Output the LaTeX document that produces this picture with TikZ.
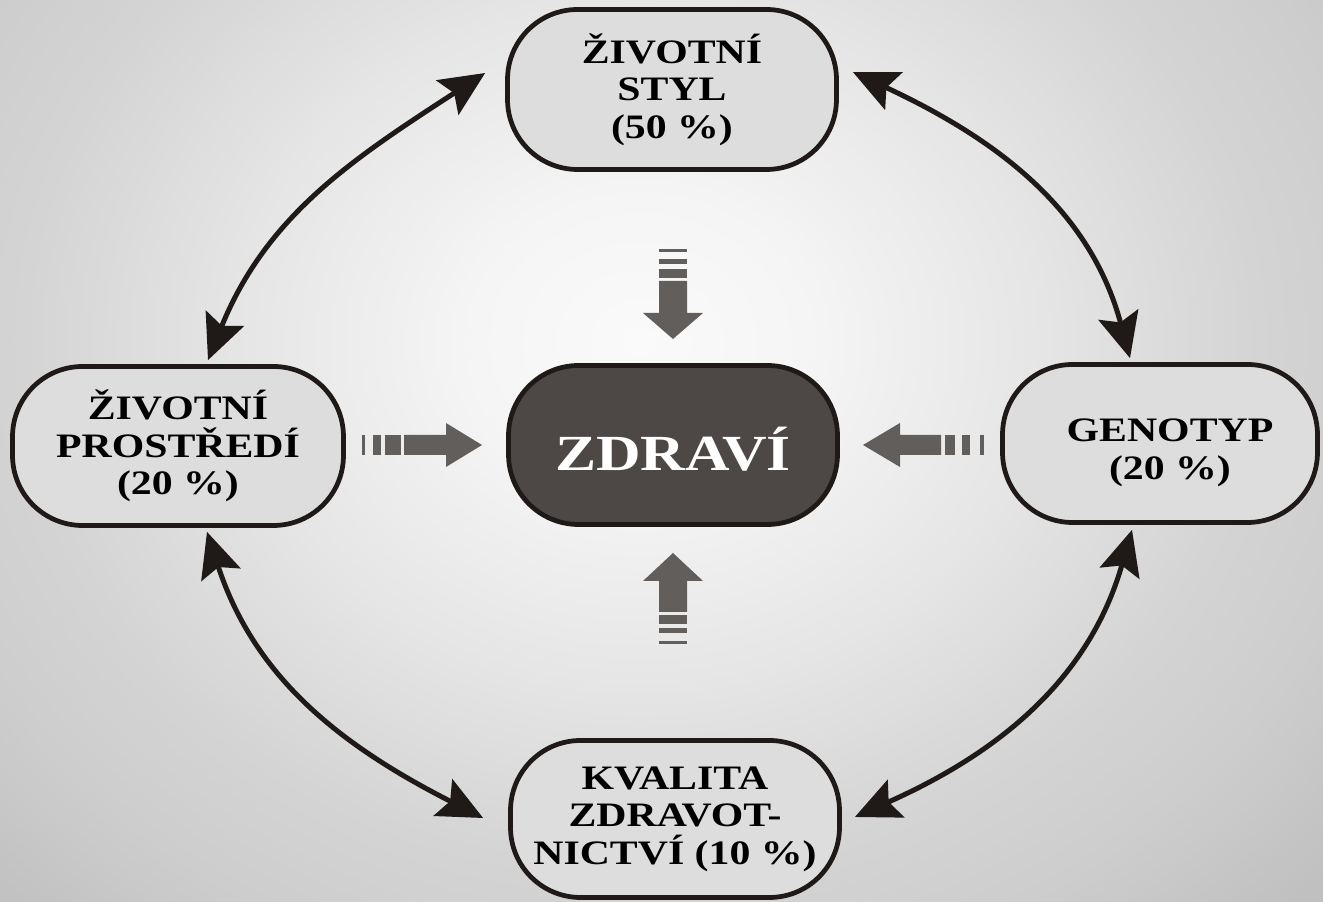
\documentclass[tikz,border=0pt]{standalone}
\usepackage{fontspec}
\usetikzlibrary{arrows.meta,calc}
\newfontfamily\boxfont{Liberation Serif Bold}[FakeStretch=1.22]
\definecolor{edge}{HTML}{1F1A17}
\definecolor{boxfill}{HTML}{DDDDDD}
\definecolor{corefill}{HTML}{4D4846}
\definecolor{blockc}{HTML}{625E5C}
\definecolor{bgA}{HTML}{FAFAFA}
\definecolor{bgB}{HTML}{F5F5F5}
\definecolor{bgC}{HTML}{E6E6E6}
\definecolor{bgD}{HTML}{D4D4D4}
\definecolor{bgE}{HTML}{CDCDCD}
\definecolor{bgF}{HTML}{C0C0C0}
\definecolor{bgG}{HTML}{B8B8B8}
\pgfdeclareradialshading{bgshade}{\pgfpoint{0bp}{0bp}}{color(0bp)=(bgA); color(6bp)=(bgB); color(14bp)=(bgC); color(22bp)=(bgD); color(27bp)=(bgE); color(33bp)=(bgF); color(50bp)=(bgG)}
\begin{document}
\begin{tikzpicture}[x=0.02cm,y=0.02cm,
  box/.style={draw=edge, line width=0.095cm, fill=boxfill, rounded corners=1.4cm,
    align=center, inner sep=0pt, text=black,
    font=\boxfont\fontsize{19.5}{21.3}\selectfont},
  boxtext/.style={align=center, inner sep=0pt, text=black,
    font=\boxfont\fontsize{19.5}{21.3}\selectfont},
  corebox/.style={draw=edge, line width=0.095cm, fill=corefill, rounded corners=1.4cm,
    inner sep=0pt},
  coretext/.style={text=white, inner sep=0pt, font=\boxfont\fontsize{28.8}{30}\selectfont},
  conn/.style={draw=edge, line width=0.1cm,
    {Stealth[length=0.9cm,width=0.82cm,inset=0.16cm]}-{Stealth[length=0.9cm,width=0.82cm,inset=0.16cm]}},
  blockarrow/.style={fill=blockc, draw=none}]

\useasboundingbox (0,0) rectangle (1323,902);
\begin{scope}
  \clip (0,0) rectangle (1323,902);
  \shade[shading=bgshade] (-60,-40) rectangle (1340,1160);
\end{scope}

% boxes
\node[box, minimum width=6.58cm, minimum height=3.2cm] (styl) at (672,812.5) {ŽIVOTNÍ\\STYL\\(50 \%)};
\node[box, minimum width=6.62cm, minimum height=3.18cm] (left) at (178,456) {ŽIVOTNÍ\\PROSTŘEDÍ\\(20 \%)};
\node[box, minimum width=6.3cm, minimum height=3.16cm] (geno) at (1160,458.5) {};
\node[boxtext] (genotxt) at (1170,449) {GENOTYP\\(20 \%)};
\node[box, minimum width=6.58cm, minimum height=3.14cm] (qual) at (675,83) {KVALITA\\ZDRAVOT-\\NICTVÍ (10 \%)};
\node[corebox, minimum width=6.58cm, minimum height=3.18cm] (core) at (673,457) {};
\node[coretext] (coretxt) at (673,453) {ZDRAVÍ};

% curved double arrows
\draw[conn] ($(left.north)+(30,4)$) to[out=68,in=213] ($(styl.west)+(-20,16.5)$);
\draw[conn] ($(styl.east)+(14,17.5)$) to[out=-25,in=105] ($(geno.north)+(-30,4)$);
\draw[conn] ($(left.south)+(29,-4)$) to[out=-72,in=153] ($(qual.west)+(-25,1)$);
\draw[conn] ($(geno.south)+(-28,-5)$) to[out=-106,in=24] ($(qual.east)+(13,2)$);

% block arrow from top
\fill[blockarrow] (659,653) rectangle (687,650);
\fill[blockarrow] (659,643) rectangle (687,638);
\fill[blockarrow] (659,633) rectangle (687,624);
\fill[blockarrow] (659,621) -- (687,621) -- (687,589) -- (703,589) -- (673,563) -- (643,589) -- (659,589) -- cycle;

% block arrow from bottom
\fill[blockarrow] (673,349) -- (703,321) -- (687,321) -- (687,290) -- (659,290) -- (659,321) -- (643,321) -- cycle;
\fill[blockarrow] (659,287) rectangle (687,278);
\fill[blockarrow] (659,274) rectangle (687,269);
\fill[blockarrow] (659,260.5) rectangle (687,257.5);

% block arrow from left
\fill[blockarrow] (362,467) rectangle (365,447);
\fill[blockarrow] (373,467) rectangle (381,447);
\fill[blockarrow] (385,467) rectangle (401,447);
\fill[blockarrow] (404,467) -- (446,467) -- (446,479) -- (482,457) -- (446,435) -- (446,447) -- (404,447) -- cycle;

% block arrow from right
\fill[blockarrow] (984,467) rectangle (980,447);
\fill[blockarrow] (970,467) rectangle (962,447);
\fill[blockarrow] (955,467) rectangle (945,447);
\fill[blockarrow] (941,467) -- (900,467) -- (900,479) -- (863,457) -- (900,435) -- (900,447) -- (941,447) -- cycle;
\end{tikzpicture}
\end{document}
